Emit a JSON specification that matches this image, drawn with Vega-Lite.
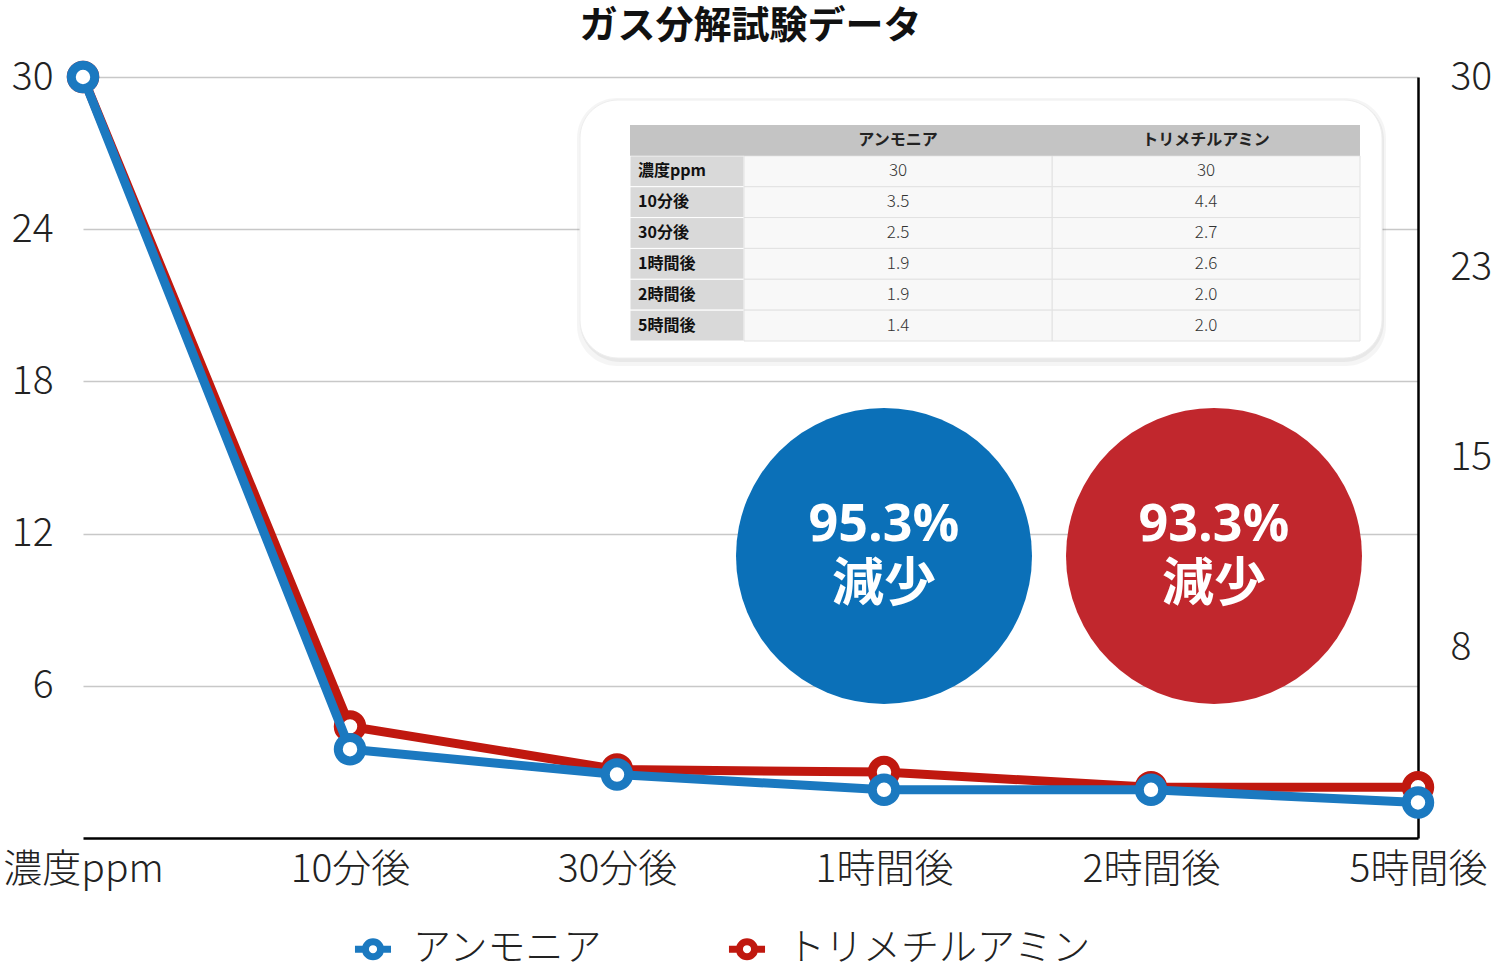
{
  "$schema": "https://vega.github.io/schema/vega-lite/v6.json",
  "description": "Gas decomposition test: ammonia and trimethylamine concentration over time",
  "width": 1335,
  "height": 761,
  "autosize": "none",
  "padding": {"left": 83, "top": 77, "right": 82, "bottom": 130},
  "title": {
    "text": "ガス分解試験データ",
    "fontSize": 38,
    "fontWeight": "bold",
    "anchor": "middle",
    "offset": 1,
    "color": "#111111"
  },
  "config": {"font": "Noto Sans CJK JP", "view": {"stroke": null}},
  "datasets": {
    "gas": [
      {"time": "濃度ppm", "series": "トリメチルアミン", "value": 30, "disp": "30"},
      {"time": "10分後", "series": "トリメチルアミン", "value": 4.4, "disp": "4.4"},
      {"time": "30分後", "series": "トリメチルアミン", "value": 2.7, "disp": "2.7"},
      {"time": "1時間後", "series": "トリメチルアミン", "value": 2.6, "disp": "2.6"},
      {"time": "2時間後", "series": "トリメチルアミン", "value": 2.0, "disp": "2.0"},
      {"time": "5時間後", "series": "トリメチルアミン", "value": 2.0, "disp": "2.0"},
      {"time": "濃度ppm", "series": "アンモニア", "value": 30, "disp": "30"},
      {"time": "10分後", "series": "アンモニア", "value": 3.5, "disp": "3.5"},
      {"time": "30分後", "series": "アンモニア", "value": 2.5, "disp": "2.5"},
      {"time": "1時間後", "series": "アンモニア", "value": 1.9, "disp": "1.9"},
      {"time": "2時間後", "series": "アンモニア", "value": 1.9, "disp": "1.9"},
      {"time": "5時間後", "series": "アンモニア", "value": 1.4, "disp": "1.4"}
    ],
    "reduction": [
      {"series": "アンモニア", "label": "95.3%\n減少"},
      {"series": "トリメチルアミン", "label": "93.3%\n減少"}
    ]
  },
  "data": {"name": "gas"},
  "layer": [
    {
      "data": {"values": [{"box": "table"}]},
      "encoding": {
        "x": {"datum": 0, "type": "quantitative", "scale": {"domain": [0, 1], "range": [497, 1299]}, "axis": null},
        "x2": {"datum": 1},
        "y": {"datum": 0, "type": "quantitative", "scale": {"domain": [0, 1], "range": [23, 281]}, "axis": null},
        "y2": {"datum": 1}
      },
      "layer": [
        {"mark": {"type": "rect", "cornerRadius": 40, "fill": "#000000", "opacity": 0.04, "xOffset": -3, "x2Offset": 4, "yOffset": -2, "y2Offset": 8}},
        {"mark": {"type": "rect", "cornerRadius": 40, "fill": "#000000", "opacity": 0.05, "x2Offset": 2, "y2Offset": 4}},
        {"mark": {"type": "rect", "cornerRadius": 38, "fill": "#ffffff", "stroke": "#eeeeee", "strokeWidth": 1}}
      ]
    },
    {
      "layer": [
        {
          "layer": [
            {
              "transform": [{"filter": "datum.series === 'アンモニア'"}],
              "mark": {"type": "rect", "fill": "#d9d9d9", "stroke": "#ffffff", "strokeWidth": 1},
              "encoding": {
                "x": {"datum": "項目", "type": "nominal", "scale": {"type": "band", "domain": ["項目"], "range": [547, 661], "paddingInner": 0, "paddingOuter": 0}, "axis": null},
                "y": {"field": "time", "type": "nominal", "scale": {"type": "band", "domain": ["header", "濃度ppm", "10分後", "30分後", "1時間後", "2時間後", "5時間後"], "range": [48, 264], "paddingInner": 0, "paddingOuter": 0}, "axis": null}
              }
            },
            {
              "transform": [{"filter": "datum.series === 'アンモニア' && datum.time === '濃度ppm'"}],
              "mark": {"type": "rect", "fill": "#c4c4c4"},
              "encoding": {
                "x": {"datum": "項目", "type": "nominal", "scale": {"type": "band", "domain": ["項目"], "range": [547, 661], "paddingInner": 0, "paddingOuter": 0}, "axis": null},
                "y": {"datum": "header", "type": "nominal", "scale": {"type": "band", "domain": ["header", "濃度ppm", "10分後", "30分後", "1時間後", "2時間後", "5時間後"], "range": [48, 264], "paddingInner": 0, "paddingOuter": 0}, "axis": null}
              }
            },
            {
              "transform": [{"filter": "datum.series === 'アンモニア'"}],
              "mark": {"type": "text", "align": "left", "dx": 8, "fontSize": 16, "fontWeight": "bold", "color": "#111111"},
              "encoding": {
                "x": {"datum": "項目", "type": "nominal", "bandPosition": 0, "scale": {"type": "band", "domain": ["項目"], "range": [547, 661], "paddingInner": 0, "paddingOuter": 0}, "axis": null},
                "y": {"field": "time", "type": "nominal", "scale": {"type": "band", "domain": ["header", "濃度ppm", "10分後", "30分後", "1時間後", "2時間後", "5時間後"], "range": [48, 264], "paddingInner": 0, "paddingOuter": 0}, "axis": null},
                "text": {"field": "time"}
              }
            }
          ]
        },
        {
          "layer": [
            {
              "mark": {"type": "rect", "fill": "#f8f8f8", "stroke": "#e2e2e2", "strokeWidth": 1},
              "encoding": {
                "x": {"field": "series", "type": "nominal", "scale": {"type": "band", "domain": ["アンモニア", "トリメチルアミン"], "range": [661, 1277], "paddingInner": 0, "paddingOuter": 0}, "axis": null},
                "y": {"field": "time", "type": "nominal", "scale": {"type": "band", "domain": ["header", "濃度ppm", "10分後", "30分後", "1時間後", "2時間後", "5時間後"], "range": [48, 264], "paddingInner": 0, "paddingOuter": 0}, "axis": null}
              }
            },
            {
              "transform": [{"filter": "datum.time === '濃度ppm'"}],
              "mark": {"type": "rect", "fill": "#c4c4c4"},
              "encoding": {
                "x": {"field": "series", "type": "nominal", "scale": {"type": "band", "domain": ["アンモニア", "トリメチルアミン"], "range": [661, 1277], "paddingInner": 0, "paddingOuter": 0}, "axis": null},
                "y": {"datum": "header", "type": "nominal", "scale": {"type": "band", "domain": ["header", "濃度ppm", "10分後", "30分後", "1時間後", "2時間後", "5時間後"], "range": [48, 264], "paddingInner": 0, "paddingOuter": 0}, "axis": null}
              }
            },
            {
              "mark": {"type": "text", "fontSize": 17, "fontWeight": 300, "color": "#333333"},
              "encoding": {
                "x": {"field": "series", "type": "nominal", "scale": {"type": "band", "domain": ["アンモニア", "トリメチルアミン"], "range": [661, 1277], "paddingInner": 0, "paddingOuter": 0}, "axis": null},
                "y": {"field": "time", "type": "nominal", "scale": {"type": "band", "domain": ["header", "濃度ppm", "10分後", "30分後", "1時間後", "2時間後", "5時間後"], "range": [48, 264], "paddingInner": 0, "paddingOuter": 0}, "axis": null},
                "text": {"field": "disp"}
              }
            },
            {
              "transform": [{"filter": "datum.time === '濃度ppm'"}],
              "mark": {"type": "text", "fontSize": 16, "fontWeight": "bold", "color": "#222222"},
              "encoding": {
                "x": {"field": "series", "type": "nominal", "scale": {"type": "band", "domain": ["アンモニア", "トリメチルアミン"], "range": [661, 1277], "paddingInner": 0, "paddingOuter": 0}, "axis": null},
                "y": {"datum": "header", "type": "nominal", "scale": {"type": "band", "domain": ["header", "濃度ppm", "10分後", "30分後", "1時間後", "2時間後", "5時間後"], "range": [48, 264], "paddingInner": 0, "paddingOuter": 0}, "axis": null},
                "text": {"field": "series"}
              }
            }
          ]
        }
      ],
      "resolve": {"scale": {"x": "independent"}}
    },
    {
      "data": {"name": "reduction"},
      "encoding": {
        "x": {"field": "series", "type": "nominal", "scale": {"type": "point", "domain": ["アンモニア", "トリメチルアミン"], "range": [801, 1131], "padding": 0}, "axis": null},
        "y": {"datum": 11.12, "type": "quantitative", "scale": {"domain": [0, 30], "nice": false}, "axis": null}
      },
      "layer": [
        {
          "mark": {"type": "point", "shape": "circle", "filled": true, "size": 87616, "opacity": 1, "strokeWidth": 0},
          "encoding": {
            "color": {"field": "series", "type": "nominal", "scale": {"domain": ["アンモニア", "トリメチルアミン"], "range": ["#0b70b8", "#c1272d"]}, "legend": null}
          }
        },
        {
          "mark": {"type": "text", "color": "#ffffff", "fontSize": 52, "fontWeight": "bold", "lineBreak": "\n", "lineHeight": 60, "dy": -31, "font": "Open Sans, Noto Sans CJK JP"},
          "encoding": {"text": {"field": "label"}}
        }
      ]
    },
    {
      "mark": {"type": "point", "opacity": 0},
      "encoding": {
        "y": {
          "field": "value",
          "type": "quantitative",
          "scale": {"domain": [0, 30], "nice": false},
          "axis": {
            "orient": "right",
            "title": null,
            "values": [7.5, 15, 22.5, 30],
            "format": ".0f",
            "labelFontSize": 39,
            "labelFontWeight": 300,
            "labelColor": "#222222",
            "labelPadding": 32,
            "ticks": false,
            "grid": false,
            "domainColor": "#000000",
            "domainWidth": 2.5
          }
        }
      }
    },
    {
      "encoding": {
        "x": {
          "field": "time",
          "type": "nominal",
          "sort": ["濃度ppm", "10分後", "30分後", "1時間後", "2時間後", "5時間後"],
          "scale": {"type": "point", "padding": 0},
          "axis": {
            "title": null,
            "labelAngle": 0,
            "labelFontSize": 39,
            "labelFontWeight": 300,
            "labelColor": "#222222",
            "labelPadding": 12,
            "ticks": false,
            "grid": false,
            "domainColor": "#000000",
            "domainWidth": 2.5
          }
        },
        "y": {
          "field": "value",
          "type": "quantitative",
          "scale": {"domain": [0, 30], "nice": false},
          "axis": {
            "title": null,
            "values": [6, 12, 18, 24, 30],
            "labelFontSize": 39,
            "labelFontWeight": 300,
            "labelColor": "#222222",
            "labelPadding": 30,
            "ticks": false,
            "domain": false,
            "grid": true,
            "gridColor": "#c8c8c8",
            "gridWidth": 1.5
          }
        },
        "color": {
          "field": "series",
          "type": "nominal",
          "scale": {"domain": ["アンモニア", "トリメチルアミン"], "range": ["#1b79c0", "#c0180f"]},
          "legend": {
            "title": null,
            "orient": "none",
            "legendX": 268,
            "legendY": 850,
            "direction": "horizontal",
            "labelFontSize": 38,
            "labelFontWeight": 300,
            "labelColor": "#222222",
            "labelOffset": 18,
            "labelLimit": 500,
            "columnPadding": 110,
            "symbolType": "M-1,0H-0.42M0.42,0H1M-0.42,0A0.42,0.42,0,1,1,0.42,0A0.42,0.42,0,1,1,-0.42,0",
            "symbolSize": 1300,
            "symbolStrokeWidth": 7,
            "symbolFillColor": "#ffffff"
          }
        }
      },
      "layer": [
        {"transform": [{"filter": "datum.series === 'トリメチルアミン'"}], "mark": {"type": "line", "strokeWidth": 9}},
        {"transform": [{"filter": "datum.series === 'トリメチルアミン'"}], "mark": {"type": "point", "filled": false, "fill": "#ffffff", "size": 550, "strokeWidth": 9, "opacity": 1}},
        {"transform": [{"filter": "datum.series === 'アンモニア'"}], "mark": {"type": "line", "strokeWidth": 9}},
        {"transform": [{"filter": "datum.series === 'アンモニア'"}], "mark": {"type": "point", "filled": false, "fill": "#ffffff", "size": 550, "strokeWidth": 9, "opacity": 1}}
      ]
    }
  ],
  "resolve": {"scale": {"x": "independent", "y": "independent", "color": "independent"}}
}
